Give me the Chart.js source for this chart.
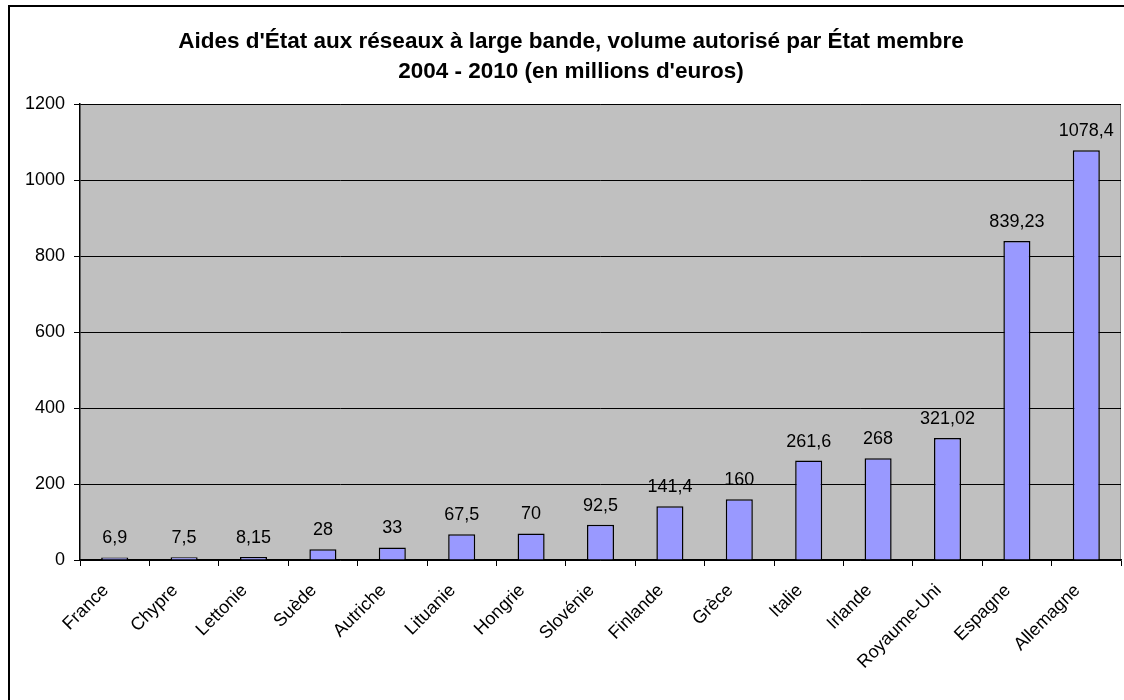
<!DOCTYPE html>
<html><head><meta charset="utf-8">
<script src="https://cdn.jsdelivr.net/npm/chart.js@4.4.0/dist/chart.umd.min.js"></script>
<style>html,body{margin:0;padding:0;background:#fff}#w{width:1124px;height:700px}</style>
</head><body><div id="w"><canvas id="c" width="1124" height="700"></canvas></div>
<script>
const categories = ["France","Chypre","Lettonie","Suède","Autriche","Lituanie","Hongrie","Slovénie","Finlande","Grèce","Italie","Irlande","Royaume-Uni","Espagne","Allemagne"];
const values = [6.9, 7.5, 8.15, 28, 33, 67.5, 70, 92.5, 141.4, 160, 261.6, 268, 321.02, 839.23, 1078.4];
const yTicks = [0, 200, 400, 600, 800, 1000, 1200];
const titleLines = ["Aides d'État aux réseaux à large bande, volume autorisé par État membre", "2004 - 2010 (en millions d'euros)"];
const FONT = "'Liberation Sans', Arial, sans-serif";

const deco = {
  id: 'deco',
  beforeDraw(chart) {
    const {ctx, chartArea: a} = chart;
    ctx.save();
    ctx.fillStyle = '#fff';
    ctx.fillRect(0, 0, chart.width, chart.height);
    ctx.strokeStyle = '#000';
    ctx.lineWidth = 2;
    ctx.beginPath();
    ctx.moveTo(9, 720); ctx.lineTo(9, 6); ctx.lineTo(1130, 6);
    ctx.stroke();
    ctx.fillStyle = '#C0C0C0';
    ctx.fillRect(a.left, a.top, a.right - a.left, a.bottom - a.top);
    ctx.strokeStyle = '#808080';
    ctx.lineWidth = 1;
    ctx.beginPath();
    ctx.moveTo(a.left, a.top + 0.5); ctx.lineTo(a.right - 0.5, a.top + 0.5); ctx.lineTo(a.right - 0.5, a.bottom);
    ctx.stroke();
    ctx.fillStyle = '#000';
    ctx.font = "bold 22.5px " + FONT;
    ctx.textAlign = 'center';
    ctx.textBaseline = 'alphabetic';
    ctx.fillText(titleLines[0], 571, 48);
    ctx.fillText(titleLines[1], 571, 78);
    ctx.restore();
  },
  afterDatasetsDraw(chart) {
    const {ctx} = chart;
    const meta = chart.getDatasetMeta(0);
    ctx.save();
    ctx.fillStyle = '#000';
    ctx.font = "18px " + FONT;
    ctx.textAlign = 'center';
    ctx.textBaseline = 'alphabetic';
    meta.data.forEach((bar, i) => {
      ctx.fillText(String(values[i]).replace('.', ','), bar.x, bar.y - 14);
    });
    ctx.restore();
  }
};

new Chart(document.getElementById('c'), {
  type: 'bar',
  data: {
    labels: categories,
    datasets: [{
      data: values,
      backgroundColor: '#9999FF',
      borderColor: '#000',
      borderWidth: 1.5,
      barPercentage: 0.39,
      categoryPercentage: 1
    }]
  },
  options: {
    responsive: false,
    animation: false,
    devicePixelRatio: 1,
    layout: {padding: {top: 104, right: 3, left: 0, bottom: 0}},
    plugins: {legend: {display: false}, title: {display: false}, tooltip: {enabled: false}},
    scales: {
      x: {
        grid: {display: true, drawOnChartArea: false, color: '#000', tickLength: 6, offset: true},
        border: {color: '#000', width: 1.5},
        ticks: {color: '#000', font: {family: FONT, size: 18}, maxRotation: 45, minRotation: 45, autoSkip: false, padding: 14, labelOffset: -9},
        afterFit(s) { s.height = 140; }
      },
      y: {
        min: 0, max: 1200,
        afterBuildTicks(s) { s.ticks = yTicks.map(v => ({value: v})); },
        grid: {color: '#000', tickLength: 6, lineWidth: 1},
        border: {color: '#000', width: 1.5},
        ticks: {color: '#000', font: {family: FONT, size: 18}, padding: 9, callback: v => String(v)},
        afterFit(s) { s.width = 80; }
      }
    }
  },
  plugins: [deco]
});
</script></body></html>
